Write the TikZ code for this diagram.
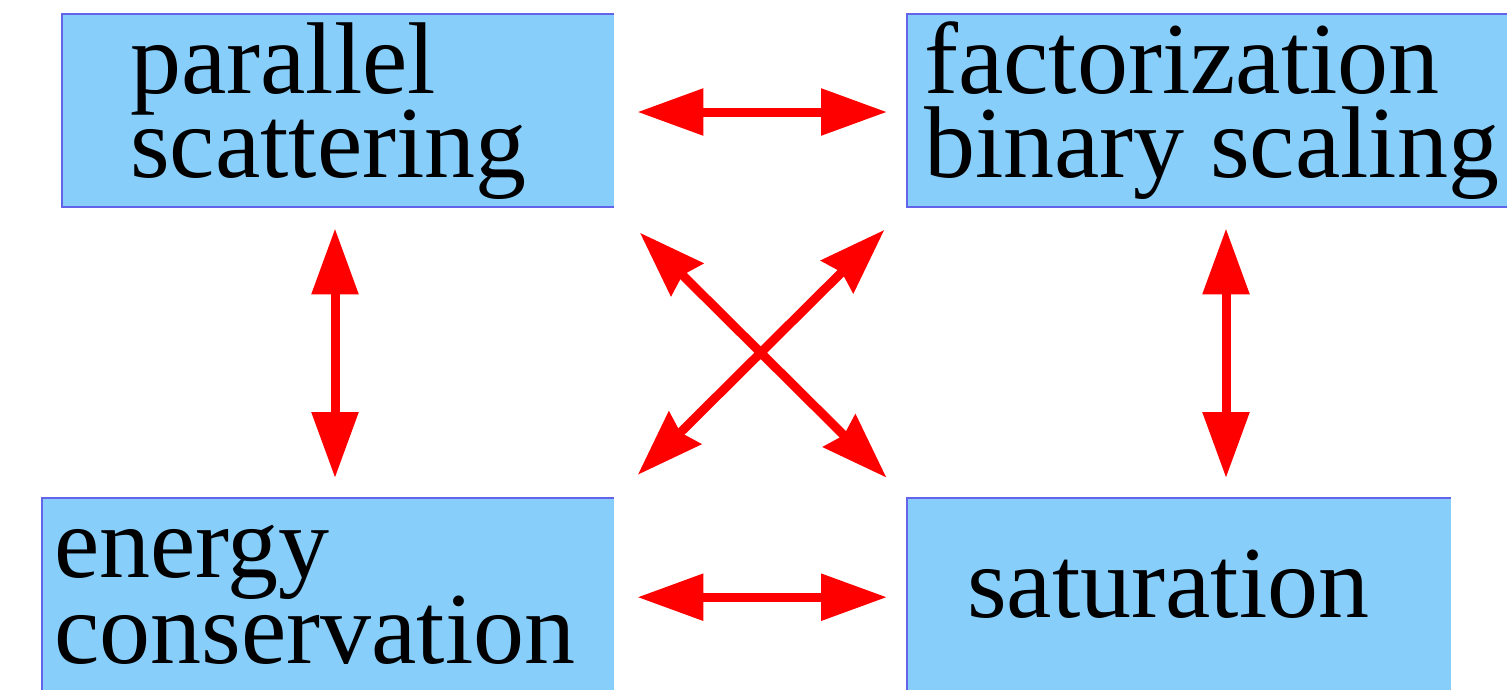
\documentclass[tikz,border=0pt]{standalone}
\usepackage{fontspec}
\setmainfont{Liberation Serif}
\usetikzlibrary{arrows.meta}
\definecolor{boxfill}{RGB}{135,206,250}
\definecolor{boxline}{RGB}{100,100,235}
\definecolor{arrred}{RGB}{255,0,0}
\tikzset{
  box/.style={fill=boxfill, inner sep=0pt, anchor=north west},
  boxedge/.style={draw=boxline, line width=2pt},
  lbl/.style={inner sep=0pt, anchor=base west, text height=62pt, text depth=0pt, font=\fontsize{102}{102}\selectfont},
  arr/.style={draw=arrred, line width=9pt,
    {Triangle[length=66pt,width=45pt]}-{Triangle[length=66pt,width=45pt]}},
  darr/.style={draw=arrred, line width=9pt,
    {Stealth[length=66pt,width=45pt,inset=6pt]}-{Stealth[length=66pt,width=45pt,inset=6pt]}}
}
\begin{document}
\begin{tikzpicture}[x=1pt,y=-1pt]
\useasboundingbox (0,0) rectangle (1507,689);
% boxes
\node[box, minimum width=552pt, minimum height=193pt] (tl) at (62,14) {};
\node[box, minimum width=620pt, minimum height=193pt] (tr) at (907,14) {};
\node[box, minimum width=572pt, minimum height=198pt] (bl) at (42,498) {};
\node[box, minimum width=544pt, minimum height=198pt] (br) at (907,498) {};
\draw[boxedge] (tl.north east) -- (tl.north west) -- (tl.south west) -- (tl.south east);
\draw[boxedge] (tr.north east) -- (tr.north west) -- (tr.south west) -- (tr.south east);
\draw[boxedge] (bl.north east) -- (bl.north west) -- (bl.south west);
\draw[boxedge] (br.north east) -- (br.north west) -- (br.south west);
% labels
\node[lbl] (tla) at (130,93) {parallel};
\node[lbl] (tlb) at (130,177) {scattering};
\node[lbl] (tra) at (924,93) {factorization};
\node[lbl] (trb) at (924,177) {binary scaling};
\node[lbl] (bla) at (54,577) {energy};
\node[lbl] (blb) at (54,663) {conservation};
\node[lbl] (bra) at (967,617) {saturation};
% connectors
\draw[arr, shorten <=23pt, shorten >=20pt] (tl.east |- 0,112) -- (tr.west |- 0,112);
\draw[arr, shorten <=23pt, shorten >=20pt] (bl.east) -- (br.west);
\draw[arr, shorten <=21pt, shorten >=20pt] (tl.south -| 335,0) -- (bl.north -| 335,0);
\draw[arr, shorten <=21pt, shorten >=20pt] (tr.south -| 1226,0) -- (br.north -| 1226,0);
\draw[darr, shorten <=36pt, shorten >=29pt] (tl.south east) -- (br.north west);
\draw[darr, shorten <=32pt, shorten >=33pt] (tr.south west) -- (bl.north east);
\end{tikzpicture}
\end{document}
